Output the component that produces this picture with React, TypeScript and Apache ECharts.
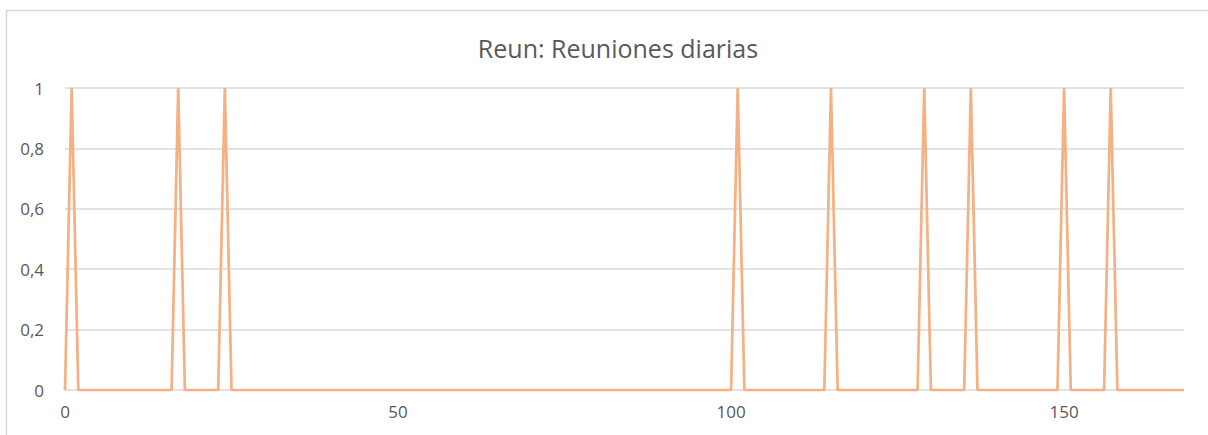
import React, { useEffect, useRef } from "react";
import * as echarts from "echarts";

const TITLE = "Reun: Reuniones diarias";
// Hourly values (0..168)
const VALUES: number[] = [
  0, 1, 0, 0, 0, 0, 0, 0, 0, 0, 0, 0, 0, 0, 0, 0, 0, 1, 0, 0, 0, 0, 0, 0,
  1, 0, 0, 0, 0, 0, 0, 0, 0, 0, 0, 0, 0, 0, 0, 0, 0, 0, 0, 0, 0, 0, 0, 0,
  0, 0, 0, 0, 0, 0, 0, 0, 0, 0, 0, 0, 0, 0, 0, 0, 0, 0, 0, 0, 0, 0, 0, 0,
  0, 0, 0, 0, 0, 0, 0, 0, 0, 0, 0, 0, 0, 0, 0, 0, 0, 0, 0, 0, 0, 0, 0, 0,
  0, 0, 0, 0, 0, 1, 0, 0, 0, 0, 0, 0, 0, 0, 0, 0, 0, 0, 0, 1, 0, 0, 0, 0,
  0, 0, 0, 0, 0, 0, 0, 0, 0, 1, 0, 0, 0, 0, 0, 0, 1, 0, 0, 0, 0, 0, 0, 0,
  0, 0, 0, 0, 0, 0, 1, 0, 0, 0, 0, 0, 0, 1, 0, 0, 0, 0, 0, 0, 0, 0, 0, 0,
  0,
];
const X_MAX = 168;
const X_INTERVAL = 50;
const Y_MAX = 1;
const Y_INTERVAL = 0.2;

export default function App() {
  const ref = useRef<HTMLDivElement>(null);
  useEffect(() => {
    if (!ref.current) return;
    const chart = echarts.init(ref.current, null, { renderer: "svg" });
    const font = "'Open Sans', 'Noto Sans', sans-serif";
    chart.setOption({
      animation: false,
      backgroundColor: "#ffffff",
      title: {
        text: TITLE,
        left: 613,
        textAlign: "center",
        top: 30,
        textStyle: { fontFamily: font, fontSize: 25, fontWeight: "normal", color: "#595959" },
      },
      graphic: [
        {
          type: "rect",
          shape: { x: 6.5, y: 10.5, width: 1230, height: 460 },
          style: { fill: "none", stroke: "#d9d9d9", lineWidth: 1.5 },
          silent: true,
        },
      ],
      grid: { left: 65, right: 24, top: 88, bottom: 45 },
      xAxis: {
        type: "value",
        min: 0,
        max: X_MAX,
        interval: X_INTERVAL,
        axisLine: { show: false },
        axisTick: { show: false },
        splitLine: { show: false },
        axisLabel: {
          showMaxLabel: false,
          margin: 13,
          fontFamily: font,
          fontSize: 17,
          color: "#595959",
        },
      },
      yAxis: {
        type: "value",
        min: 0,
        max: Y_MAX,
        interval: Y_INTERVAL,
        axisLine: { show: false },
        axisTick: { show: false },
        splitLine: { lineStyle: { color: "#d9d9d9", width: 1.5 } },
        axisLabel: {
          margin: 21,
          fontFamily: font,
          fontSize: 17,
          color: "#595959",
          formatter: (v: number) => String(Math.round(v * 10) / 10).replace(".", ","),
        },
      },
      series: [
        {
          type: "line",
          data: VALUES.map((v, i) => [i, v]),
          showSymbol: false,
          symbol: "none",
          lineStyle: { color: "#F4B183", width: 2.75 },
        },
      ],
    });
    return () => chart.dispose();
  }, []);
  return (
    <div
      ref={ref}
      style={{ position: "fixed", left: 0, top: 0, width: 1208, height: 435 }}
    />
  );
}
